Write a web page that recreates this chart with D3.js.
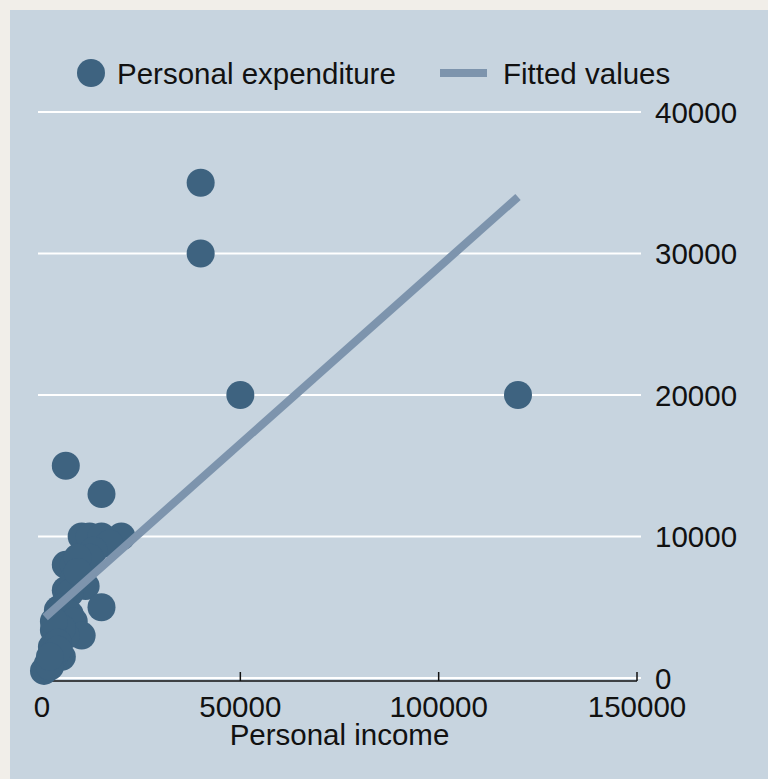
<!DOCTYPE html>
<html>
<head>
<meta charset="utf-8">
<script src="https://cdn.jsdelivr.net/npm/d3@7"></script>
<style>
  html, body { margin: 0; padding: 0; background: #f1eee9; }
  svg { display: block; }
  text { font-family: "Liberation Sans", Arial, sans-serif; fill: #111; }
</style>
</head>
<body>
<svg id="chart" width="768" height="779"></svg>
<script>
// Personal income (x) vs personal expenditure (y)
const incomeX = [40000, 40000, 50000, 120000, 6000, 15000,
  10000, 12000, 15000, 20000, 17000, 13000, 12000,
  6000, 8000, 9000, 11000, 6000, 8000, 7000, 9000,
  15000, 4000, 5000, 7000, 8000, 3000, 10000, 6000, 5000, 3000,
  2500, 5000, 4000, 3000, 500, 1500, 2000, 4000, 2000];
const expenditureY = [35000, 30000, 20000, 20000, 15000, 13000,
  10000, 10000, 10000, 10000, 9500, 9000, 8500,
  8000, 8000, 8500, 6500, 6200, 7000, 6000, 7500,
  5000, 4800, 5000, 4500, 4000, 3400, 3000, 3000, 3500, 4000,
  2200, 1500, 2500, 1500, 500, 1000, 800, 2000, 1500];
// Fitted values (linear fit) at the ends of the income range
const fittedX = [800, 120000];
const fittedY = [4300, 34000];
const xTicks = [0, 50000, 100000, 150000];
const yTicks = [0, 10000, 20000, 30000, 40000];
const legendLabels = ["Personal expenditure", "Fitted values"];
const xTitle = "Personal income";

const dotColor = "#3e6380";
const lineColor = "#7d94ad";
const fs = 29.5;

const svg = d3.select("#chart");
svg.append("rect").attr("x", 10).attr("y", 10).attr("width", 758).attr("height", 769).attr("fill", "#c7d4df");

const x = d3.scaleLinear().domain([0, 150000]).range([42, 637]);
const y = d3.scaleLinear().domain([0, 40000]).range([678, 112]);

// gridlines
svg.append("g").selectAll("line").data(yTicks).join("line")
  .attr("x1", 38).attr("x2", 641)
  .attr("y1", d => y(d)).attr("y2", d => y(d))
  .attr("stroke", "#ffffff").attr("stroke-width", 2);

// y labels (right)
svg.append("g").selectAll("text").data(yTicks).join("text")
  .attr("x", 655).attr("y", d => y(d)).attr("dy", "0.36em")
  .attr("font-size", fs).text(d => d);

// x axis
const xAxisY = 681;
svg.append("line").attr("x1", x(0)).attr("x2", x(150000))
  .attr("y1", xAxisY).attr("y2", xAxisY).attr("stroke", "#111").attr("stroke-width", 1.5);
svg.append("g").selectAll("line").data(xTicks).join("line")
  .attr("x1", d => x(d)).attr("x2", d => x(d))
  .attr("y1", xAxisY).attr("y2", xAxisY - 9)
  .attr("stroke", "#111").attr("stroke-width", 1.5);
svg.append("g").selectAll("text").data(xTicks).join("text")
  .attr("x", d => x(d)).attr("y", 717).attr("text-anchor", "middle")
  .attr("font-size", fs).text(d => d);
svg.append("text").attr("x", (x(0) + x(150000)) / 2).attr("y", 745)
  .attr("text-anchor", "middle").attr("font-size", fs).text(xTitle);

// points
const pts = incomeX.map((v, i) => ({x: v, y: expenditureY[i]}));
svg.append("g").selectAll("circle").data(pts).join("circle")
  .attr("cx", d => x(d.x)).attr("cy", d => y(d.y)).attr("r", 14)
  .attr("fill", dotColor);

// fitted line
const fit = fittedX.map((v, i) => [v, fittedY[i]]);
svg.append("path").datum(fit)
  .attr("d", d3.line().x(d => x(d[0])).y(d => y(d[1])))
  .attr("fill", "none").attr("stroke", lineColor).attr("stroke-width", 8);

// legend
const lg = svg.append("g");
lg.append("circle").attr("cx", 91).attr("cy", 73).attr("r", 14).attr("fill", dotColor);
lg.append("text").attr("x", 117).attr("y", 84).attr("font-size", fs).text(legendLabels[0]);
lg.append("line").attr("x1", 440).attr("x2", 487).attr("y1", 73).attr("y2", 73)
  .attr("stroke", lineColor).attr("stroke-width", 8);
lg.append("text").attr("x", 503).attr("y", 84).attr("font-size", fs).text(legendLabels[1]);
</script>
</body>
</html>
